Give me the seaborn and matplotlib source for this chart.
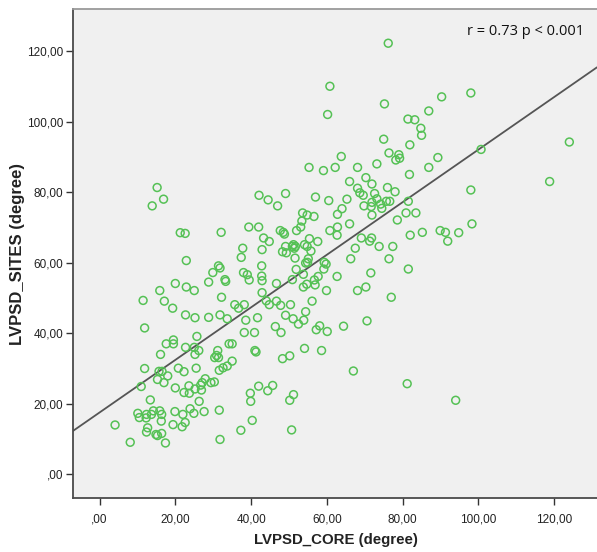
import numpy as np
import pandas as pd
import seaborn as sns
import matplotlib
matplotlib.use("Agg")
import matplotlib.pyplot as plt

# LVPSD measured at the core (x) and at the sites (y), in degrees
core = [76.2, 60.8, 60.2, 75.2, 90.3, 98.0, 81.4, 83.2, 86.9, 84.8, 85.0, 75.0,
        81.9, 124.0, 100.7, 76.4, 79.0, 78.2, 79.2, 89.3, 63.8, 55.3, 59.1, 62.2,
        68.1, 73.2, 86.9, 81.8, 66.0, 70.3, 118.8, 71.9, 68.1, 68.7, 69.6, 76.0,
        78.0, 98.0, 72.6, 73.2, 74.2, 71.9, 75.7, 76.6, 81.5, 69.8, 71.7, 74.5,
        65.3, 60.5, 57.0, 49.1, 42.1, 44.5, 47.0, 15.2, 16.9, 13.9, 80.9, 83.5,
        78.6, 71.9, 64.0, 62.8, 53.6, 54.8, 56.6, 53.4, 53.1, 39.4, 42.0, 98.3,
        66.0, 62.8, 62.7, 60.8, 52.0, 47.7, 48.5, 48.8, 82.0, 85.2, 89.9, 91.3,
        94.8, 91.9, 71.8, 69.1, 71.3, 21.3, 22.6, 32.1, 43.3, 44.8, 55.4, 57.6,
        73.8, 77.4, 67.5, 66.3, 76.4, 51.2, 51.7, 54.1, 54.8, 49.1, 50.9, 51.4,
        55.8, 37.8, 42.9, 48.3, 49.3, 37.4, 51.6, 55.1, 54.9, 54.4, 22.9, 31.4,
        31.8, 42.8, 59.3, 59.8, 59.2, 51.9, 81.5, 71.6, 29.9, 38.0, 39.0, 42.8,
        53.8, 57.7, 56.7, 62.7, 33.1, 33.3, 39.5, 42.9, 28.8, 20.0, 46.7, 50.9,
        56.9, 53.8, 54.7, 22.9, 25.0, 15.9, 59.9, 68.1, 70.3, 42.9, 32.2, 77.0,
        11.5, 17.1, 56.1, 44.0, 46.7, 44.8, 47.8, 50.4, 35.7, 38.2, 36.7, 19.3,
        54.4, 22.7, 31.8, 49.1, 25.2, 28.8, 33.7, 41.7, 38.6, 51.1, 53.9, 52.5,
        70.6, 64.4, 46.4, 58.1, 57.2, 60.1, 38.2, 40.9, 47.9, 11.9, 25.7, 17.6,
        19.5, 19.5, 22.7, 25.0, 26.2, 34.2, 35.0, 31.2, 25.2, 16.1, 41.0, 41.3,
        54.1, 58.6, 30.9, 30.4, 31.4, 50.2, 48.3, 35.0, 32.6, 33.7, 31.6, 20.8,
        22.3, 25.5, 11.9, 15.7, 16.5, 67.0, 18.0, 15.3, 17.0, 27.9, 27.1, 26.7,
        30.3, 29.4, 23.6, 25.2, 26.9, 20.0, 22.3, 23.7, 11.0, 42.0, 45.7, 44.4,
        39.8, 51.2, 81.2, 94.0, 13.4, 26.3, 39.9, 50.2, 10.1, 12.4, 14.2, 15.9,
        16.4, 13.7, 10.5, 12.3, 19.9, 22.0, 23.9, 24.9, 27.6, 31.6, 16.3, 4.1,
        19.4, 22.6, 21.8, 12.7, 12.4, 14.9, 15.3, 16.4, 40.3, 37.3, 50.7, 31.8,
        8.1, 17.4]
sites = [122.2, 110.0, 102.0, 105.0, 107.0, 108.1, 100.7, 100.5, 103.0, 98.1, 96.1, 95.0,
         93.4, 94.2, 92.1, 91.1, 90.6, 89.1, 89.6, 89.8, 90.1, 87.0, 86.1, 87.0,
         87.0, 88.0, 87.0, 85.0, 83.0, 84.1, 83.0, 82.3, 81.1, 79.8, 79.1, 81.3,
         80.1, 80.6, 79.6, 78.1, 76.6, 77.1, 77.4, 77.4, 77.4, 76.1, 75.9, 75.4,
         78.0, 77.6, 78.6, 79.6, 79.1, 77.8, 76.1, 81.3, 78.0, 76.1, 74.1, 74.1,
         72.1, 73.5, 75.3, 73.7, 74.1, 73.5, 73.1, 71.8, 70.1, 70.1, 70.1, 71.0,
         71.0, 70.1, 67.8, 69.1, 69.1, 69.1, 68.6, 68.1, 67.8, 68.6, 69.1, 68.6,
         68.5, 66.1, 67.0, 67.0, 66.1, 68.5, 68.3, 68.6, 67.0, 66.0, 66.8, 66.0,
         64.6, 64.6, 64.1, 61.1, 61.1, 65.1, 64.6, 65.1, 64.6, 64.6, 64.6, 64.1,
         63.3, 64.1, 63.7, 63.1, 62.8, 61.5, 61.3, 61.1, 60.1, 59.9, 60.6, 59.1,
         58.5, 59.1, 60.1, 59.6, 58.2, 58.1, 58.2, 57.1, 57.2, 57.2, 56.6, 56.2,
         56.7, 56.1, 55.1, 56.1, 55.2, 54.7, 55.1, 54.9, 54.5, 54.1, 54.1, 55.2,
         53.7, 53.1, 53.9, 53.1, 52.1, 52.1, 52.1, 52.1, 53.1, 51.5, 50.2, 50.2,
         49.3, 49.1, 49.1, 49.2, 49.1, 48.1, 47.9, 48.1, 48.1, 48.1, 47.1, 47.1,
         46.1, 45.2, 45.2, 45.1, 44.4, 44.5, 44.1, 44.4, 43.7, 44.1, 43.7, 42.6,
         43.5, 42.0, 41.9, 42.1, 41.0, 40.5, 40.2, 40.2, 40.2, 41.5, 39.1, 37.0,
         38.1, 37.0, 36.0, 36.0, 35.1, 37.0, 37.0, 35.1, 34.0, 34.0, 35.1, 34.7,
         35.7, 35.1, 33.7, 33.1, 33.1, 33.6, 32.8, 32.1, 30.2, 30.7, 29.5, 30.1,
         29.1, 30.1, 30.0, 29.2, 29.2, 29.3, 27.9, 26.9, 26.0, 27.1, 26.0, 25.3,
         26.2, 26.0, 25.1, 24.2, 23.9, 24.5, 23.2, 23.0, 24.9, 25.0, 25.2, 23.7,
         23.0, 22.6, 25.7, 21.0, 21.1, 20.7, 20.7, 21.0, 17.3, 17.0, 18.0, 18.0,
         17.0, 17.0, 16.1, 16.0, 17.8, 17.0, 18.6, 17.3, 17.8, 18.2, 15.1, 14.0,
         14.1, 14.7, 13.5, 13.2, 12.0, 11.3, 11.0, 11.6, 15.3, 12.5, 12.6, 9.9,
         9.1, 8.9]

tick_values = [0, 20, 40, 60, 80, 100, 120]
tick_labels = [",00", "20,00", "40,00", "60,00", "80,00", "100,00", "120,00"]
annotation = "r = 0.73 p < 0.001"

df = pd.DataFrame({"LVPSD_CORE": core, "LVPSD_SITES": sites})

sns.set_theme(style="white")
plt.rcParams["font.family"] = ["Liberation Sans Narrow", "Liberation Sans", "DejaVu Sans"]

point_green = "#55c155"
line_grey = "#555555"

fig = plt.figure(figsize=(5.97, 5.52), dpi=100)
ax = fig.add_axes([0.1223, 0.0978, 0.8777, 0.8859])
ax.set_facecolor("#f0f0f0")
ax.set_xlim(-7.0, 131.3)
ax.set_ylim(-6.7, 131.9)

sns.scatterplot(data=df, x="LVPSD_CORE", y="LVPSD_SITES", ax=ax,
                marker="o", s=32, facecolors="none", edgecolor=point_green,
                linewidth=1.1, zorder=3)
sns.regplot(data=df, x="LVPSD_CORE", y="LVPSD_SITES", ax=ax, scatter=False,
            ci=None, truncate=False,
            line_kws={"color": line_grey, "linewidth": 1.3, "zorder": 2})
ax.set_xlim(-7.0, 131.3)
ax.set_ylim(-6.7, 131.9)

ax.set_xticks(tick_values)
ax.set_xticklabels(tick_labels)
ax.set_yticks(tick_values)
ax.set_yticklabels(tick_labels)
ax.tick_params(axis="both", which="both", direction="out", length=5, width=1,
               color="#333333", labelsize=8.5, labelcolor="#222222", pad=2,
               bottom=True, left=True)
ax.tick_params(axis="x", pad=6)

for side in ("left", "bottom", "top"):
    ax.spines[side].set_visible(True)
    ax.spines[side].set_linewidth(1.3)
ax.spines["left"].set_color("#4a4a4a")
ax.spines["bottom"].set_color("#4a4a4a")
ax.spines["top"].set_color("#9a9a9a")
ax.spines["right"].set_visible(False)

ax.set_xlabel("LVPSD_CORE (degree)", fontsize=10.8, fontweight="bold",
              family=["Liberation Sans", "DejaVu Sans"], color="#222222")
ax.set_ylabel("LVPSD_SITES (degree)", fontsize=12, fontweight="bold",
              family=["Liberation Sans", "DejaVu Sans"], color="#222222")
ax.xaxis.set_label_coords(0.501, -0.071)
ax.yaxis.set_label_coords(-0.105, 0.498)
ax.yaxis.label.set_va("center")
ax.xaxis.label.set_va("top")

ax.text(0.975, 0.955, annotation, transform=ax.transAxes, ha="right", va="center",
        fontsize=10.5, family=["Open Sans", "DejaVu Sans"], color="#111111")

fig.savefig("out.png", dpi=100)
